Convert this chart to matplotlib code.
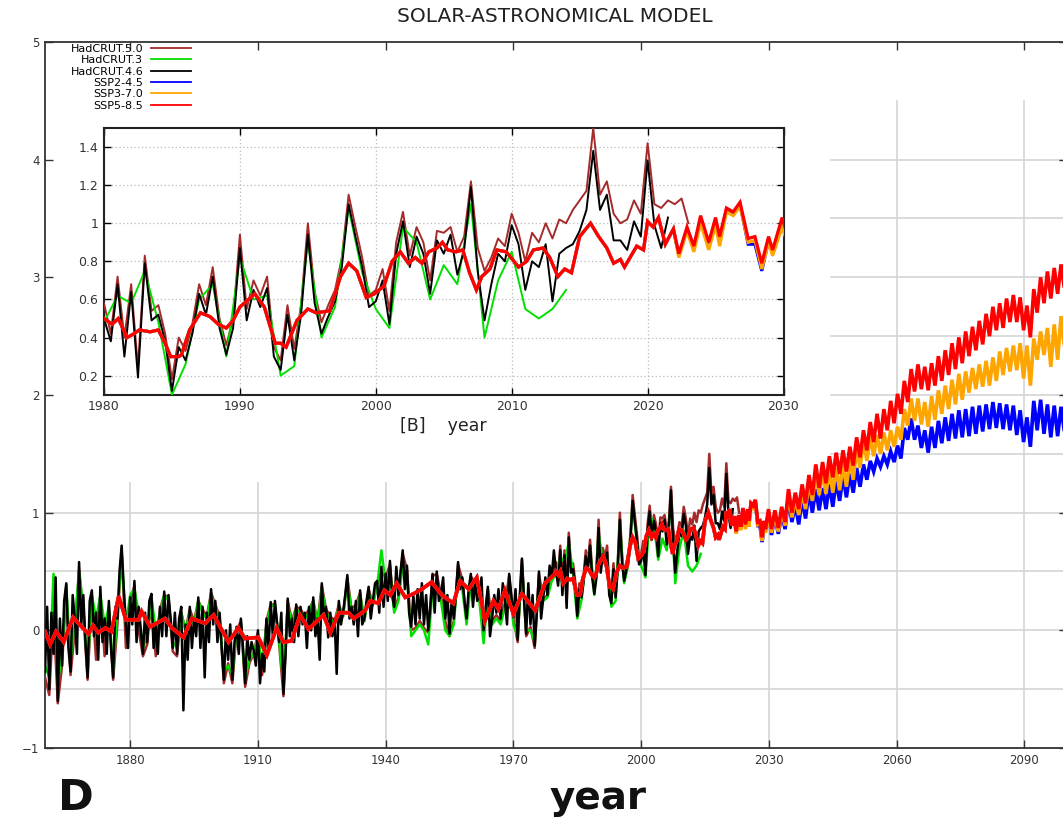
import numpy as np
import matplotlib
matplotlib.use("Agg")
import matplotlib.pyplot as plt
from matplotlib.ticker import FormatStrFormatter

# ---------------- data ----------------
series_names = ["HadCRUT.5.0", "HadCRUT.3", "HadCRUT.4.6", "SSP2-4.5", "SSP3-7.0", "SSP5-8.5"]
series_colors = ["#a52a2a", "#00e000", "#000000", "#0000ff", "#ffa500", "#ff0000"]

# HadCRUT.4.6, half-year steps 1860.0 .. 2021.5
hc46_years = np.arange(1860, 2022, 0.5)
hc46_vals = [
    -0.35, 0.20, -0.50, 0.15, -0.20, 0.45, -0.60, 0.10, -0.30, 0.25,
    0.40, -0.15, -0.35, 0.30, 0.10, -0.20, 0.58, 0.05, 0.30, -0.10,
    -0.40, 0.25, 0.34, -0.05, 0.15, -0.25, 0.37, -0.10, 0.10, -0.20,
    0.25, -0.15, -0.40, 0.20, 0.10, 0.50, 0.72, 0.35, 0.05, -0.15,
    0.28, 0.05, 0.42, -0.10, 0.20, 0.00, -0.20, 0.15, -0.10, 0.25,
    0.31, -0.15, 0.05, -0.20, 0.20, -0.05, 0.33, -0.05, 0.30, 0.10,
    -0.15, 0.15, -0.20, 0.10, 0.20, -0.68, 0.05, -0.25, 0.20, -0.15,
    0.10, -0.05, 0.28, -0.15, 0.20, -0.40, 0.15, -0.10, 0.35, 0.05,
    0.25, -0.10, 0.15, -0.15, -0.42, 0.00, -0.25, 0.05, -0.42, -0.10,
    0.03, -0.20, 0.10, -0.15, -0.45, -0.05, -0.25, -0.10, -0.17, -0.30,
    0.00, -0.45, -0.20, -0.35, 0.10, -0.15, 0.24, -0.05, 0.25, 0.05,
    -0.10, 0.15, -0.54, -0.20, 0.27, -0.05, 0.10, -0.10, 0.22, -0.05,
    0.20, 0.05, 0.15, -0.15, 0.20, 0.00, 0.28, -0.05, 0.10, -0.25,
    0.40, 0.10, 0.20, -0.06, 0.15, -0.05, 0.10, -0.37, 0.25, 0.05,
    0.15, 0.30, 0.47, 0.10, 0.20, 0.05, 0.25, -0.05, 0.34, 0.05,
    0.10, 0.25, 0.37, 0.10, 0.25, 0.40, 0.42, 0.15, 0.54, 0.20,
    0.48, 0.25, 0.59, 0.30, 0.20, 0.54, 0.30, 0.50, 0.68, 0.35,
    0.55, 0.15, 0.03, 0.30, 0.05, 0.35, 0.10, 0.40, 0.05, 0.30,
    0.00, 0.20, 0.48, 0.15, 0.50, 0.25, 0.31, 0.45, 0.10, 0.30,
    -0.03, 0.25, 0.10, 0.30, 0.58, 0.35, 0.45, 0.25, 0.10, 0.35,
    0.48, 0.20, 0.42, 0.25, 0.30, 0.45, 0.00, 0.20, 0.37, -0.05,
    0.10, 0.30, 0.15, 0.35, 0.10, 0.40, 0.25, 0.05, 0.48, 0.30,
    0.11, 0.35, -0.08, 0.30, 0.61, 0.25, -0.03, 0.40, 0.05, 0.30,
    -0.13, 0.15, 0.50, 0.10, 0.27, 0.45, 0.30, 0.55, 0.45, 0.68,
    0.50, 0.38, 0.68, 0.30, 0.64, 0.19, 0.79, 0.49, 0.52, 0.38,
    0.12, 0.35, 0.28, 0.42, 0.63, 0.52, 0.72, 0.45, 0.31, 0.45,
    0.87, 0.49, 0.65, 0.56, 0.66, 0.30, 0.23, 0.52, 0.28, 0.52,
    0.94, 0.58, 0.42, 0.51, 0.59, 0.77, 1.10, 0.93, 0.77, 0.56,
    0.59, 0.70, 0.47, 0.84, 1.01, 0.77, 0.93, 0.84, 0.63, 0.91,
    0.84, 0.94, 0.73, 0.86, 1.19, 0.75, 0.49, 0.68, 0.84, 0.80,
    0.99, 0.89, 0.65, 0.80, 0.77, 0.89, 0.59, 0.84, 0.87, 0.89,
    0.96, 1.07, 1.38, 1.07, 1.15, 0.91, 0.91, 0.86, 1.01, 0.93,
    1.33, 0.99, 0.87, 1.03,
]

# HadCRUT.3, yearly 1860 .. 2014
hc3_years = np.arange(1860, 2015)
hc3_vals = [
    -0.30, -0.40, 0.48, -0.45, -0.20, 0.38, -0.25, 0.05, 0.50, 0.20,
    -0.35, 0.30, 0.10, 0.30, 0.05, 0.20, -0.35, 0.15, 0.65, 0.05,
    0.30, 0.35, 0.15, -0.15, -0.05, 0.28, 0.00, 0.15, 0.30, 0.25,
    -0.10, -0.15, 0.15, 0.00, 0.15, 0.05, 0.25, 0.15, 0.10, 0.30,
    0.20, 0.10, -0.35, -0.30, -0.38, 0.00, 0.05, -0.40, -0.25, -0.20,
    -0.05, -0.30, 0.05, 0.20, 0.22, -0.10, -0.45, 0.22, 0.05, 0.18,
    0.15, 0.10, 0.15, 0.25, 0.05, 0.35, 0.15, 0.10, 0.05, 0.20,
    0.12, 0.42, 0.15, 0.20, 0.30, 0.08, 0.32, 0.22, 0.38, 0.68,
    0.40, 0.52, 0.15, 0.25, 0.55, 0.45, -0.05, 0.00, 0.05, 0.00,
    -0.12, 0.35, 0.40, 0.25, 0.00, -0.05, 0.05, 0.50, 0.35, 0.05,
    0.40, 0.35, 0.25, -0.11, 0.30, 0.05, 0.10, 0.05, 0.20, 0.42,
    0.05, -0.05, 0.55, 0.00, 0.00, -0.10, 0.42, 0.25, 0.28, 0.42,
    0.48, 0.62, 0.58, 0.75, 0.48, 0.10, 0.26, 0.60, 0.68, 0.30,
    0.82, 0.60, 0.62, 0.20, 0.25, 0.90, 0.40, 0.56, 1.08, 0.74,
    0.55, 0.45, 0.98, 0.90, 0.60, 0.78, 0.68, 1.10, 0.40, 0.70,
    0.85, 0.55, 0.50, 0.55, 0.65,
]

# HadCRUT.5.0, yearly 1860..1979 then half-year 1980.0..2023.0
hc5_years = np.concatenate([np.arange(1860, 1980), np.arange(1980, 2023.01, 0.5)])
hc5_vals = [
    -0.40, -0.55, 0.15, -0.62, -0.30, 0.35, -0.38, 0.00, 0.52, 0.15,
    -0.42, 0.28, -0.25, 0.30, -0.22, 0.20, -0.42, 0.05, 0.68, -0.15,
    0.25, 0.38, 0.00, -0.22, -0.12, 0.28, -0.22, 0.18, 0.30, 0.28,
    -0.18, -0.22, 0.15, 0.00, 0.18, 0.08, 0.25, 0.18, 0.12, 0.32,
    0.22, 0.12, -0.45, -0.28, -0.45, 0.00, 0.08, -0.48, -0.28, -0.20,
    -0.02, -0.38, 0.08, 0.22, 0.22, -0.12, -0.56, 0.25, 0.08, 0.20,
    0.18, 0.12, 0.18, 0.25, 0.08, 0.38, 0.18, 0.12, 0.08, 0.22,
    0.12, 0.45, 0.18, 0.22, 0.32, 0.08, 0.35, 0.22, 0.40, 0.50,
    0.45, 0.56, 0.18, 0.28, 0.65, 0.52, 0.00, 0.02, 0.08, 0.02,
    -0.02, 0.46, 0.48, 0.30, 0.08, -0.05, 0.08, 0.56, 0.43, 0.08,
    0.46, 0.40, 0.28, -0.02, 0.35, 0.08, 0.13, 0.08, 0.23, 0.46,
    0.10, -0.10, 0.60, -0.05, 0.03, -0.15, 0.48, 0.26, 0.30, 0.48,
    0.58, 0.42, 0.72, 0.40, 0.68, 0.24, 0.83, 0.54, 0.57, 0.42,
    0.18, 0.40, 0.33, 0.47, 0.68, 0.57, 0.77, 0.50, 0.36, 0.50,
    0.94, 0.55, 0.70, 0.62, 0.72, 0.35, 0.28, 0.57, 0.34, 0.57,
    1.00, 0.64, 0.48, 0.57, 0.65, 0.82, 1.15, 0.98, 0.82, 0.62,
    0.65, 0.76, 0.54, 0.90, 1.06, 0.83, 0.98, 0.90, 0.70, 0.96,
    0.95, 0.98, 0.85, 0.93, 1.22, 0.87, 0.75, 0.82, 0.92, 0.88,
    1.05, 0.95, 0.80, 0.95, 0.90, 1.00, 0.92, 1.02, 1.00, 1.07,
    1.12, 1.17, 1.50, 1.15, 1.22, 1.05, 1.00, 1.02, 1.12, 1.05,
    1.42, 1.10, 1.08, 1.12, 1.10, 1.13, 1.00,
]

# model (common history)
model_hist_years = [
    1860.0, 1861.2, 1862.6, 1864.4, 1866.6, 1868.6, 1870.2, 1871.3, 1872.5, 1874.2,
    1875.6, 1877.3, 1879.0, 1882.0, 1882.7, 1884.7, 1888.2, 1889.8, 1892.5, 1894.5,
    1897.6, 1899.6, 1903.1, 1905.4, 1907.0, 1910.1, 1912.1, 1914.4, 1916.0, 1917.9,
    1919.9, 1921.9, 1925.4, 1927.0, 1929.0, 1931.3, 1932.5, 1935.2, 1936.4, 1938.3,
    1939.7, 1941.1, 1942.6, 1944.6, 1946.5, 1948.5, 1950.8, 1953.2, 1955.9, 1957.5,
    1959.5, 1961.4, 1963.3, 1965.3, 1966.5, 1968.0, 1970.0, 1972.0, 1975.1, 1977.4,
    1979.8, 1980.0, 1980.6, 1981.05, 1981.7, 1982.2, 1982.6, 1983.4, 1984.0, 1984.5,
    1984.9, 1985.5, 1985.7, 1986.3, 1987.1, 1987.8, 1988.4, 1989.0, 1989.5, 1990.0,
    1991.1, 1991.8, 1992.6, 1993.0, 1993.4, 1994.2, 1995.0, 1995.6, 1996.6, 1997.4,
    1998.0, 1998.6, 1999.3, 1999.9, 2000.6, 2001.2, 2001.8, 2002.4, 2002.9, 2003.4,
    2003.9, 2004.5, 2004.9, 2005.3, 2005.9, 2006.4, 2006.9, 2007.4, 2007.8, 2008.4,
    2008.9, 2009.6, 2010.5, 2011.1, 2011.6, 2012.3, 2012.8, 2013.4, 2013.9, 2014.4,
    2015.0, 2015.8, 2016.4, 2017.0, 2017.5, 2018.0, 2018.3, 2019.2, 2019.7, 2020.0,
    2020.4, 2020.8, 2021.3, 2021.9,
]
model_hist_vals = [
    -0.01, -0.12, -0.01, -0.10, 0.11, 0.03, -0.03, 0.04, -0.02, 0.02,
    -0.01, 0.29, 0.09, 0.09, 0.16, 0.03, 0.10, 0.02, -0.06, 0.10,
    0.06, 0.13, -0.10, 0.02, -0.07, -0.06, -0.21, 0.02, -0.10, -0.09,
    0.13, 0.01, 0.13, -0.02, 0.15, 0.15, 0.10, 0.17, 0.25, 0.23,
    0.34, 0.30, 0.40, 0.28, 0.31, 0.35, 0.41, 0.30, 0.23, 0.42,
    0.35, 0.45, 0.08, 0.25, 0.18, 0.34, 0.14, 0.31, 0.17, 0.40,
    0.48, 0.50, 0.47, 0.50, 0.40, 0.42, 0.44, 0.43, 0.44, 0.37,
    0.30, 0.30, 0.31, 0.44, 0.53, 0.51, 0.47, 0.45, 0.49, 0.56,
    0.63, 0.56, 0.37, 0.37, 0.35, 0.49, 0.55, 0.53, 0.54, 0.72,
    0.79, 0.75, 0.61, 0.63, 0.67, 0.80, 0.85, 0.79, 0.82, 0.79,
    0.85, 0.87, 0.90, 0.86, 0.85, 0.86, 0.74, 0.65, 0.72, 0.76,
    0.86, 0.85, 0.77, 0.80, 0.86, 0.87, 0.82, 0.72, 0.76, 0.74,
    0.93, 1.00, 0.93, 0.87, 0.79, 0.81, 0.77, 0.88, 0.86, 1.01,
    0.98, 1.03, 0.89, 0.97,
]

# model near term 2022-2030
near_years = [2022.3, 2022.9, 2023.4, 2023.9, 2024.5, 2025.0, 2025.3, 2025.8,
              2026.3, 2026.8, 2027.4, 2027.9, 2028.4, 2028.9, 2029.2, 2029.9]
ssp245_near = [0.83, 0.97, 0.87, 1.02, 0.88, 1.01, 0.91, 1.07, 1.05, 1.10, 0.89, 0.89, 0.75, 0.91, 0.85, 1.00]
ssp370_near = [0.82, 0.96, 0.85, 1.00, 0.86, 0.99, 0.88, 1.06, 1.04, 1.09, 0.90, 0.91, 0.76, 0.90, 0.83, 0.98]
ssp585_near = [0.84, 0.98, 0.88, 1.04, 0.90, 1.03, 0.93, 1.08, 1.06, 1.11, 0.92, 0.93, 0.79, 0.93, 0.86, 1.03]

# projections, 0.8-year steps from 2030.6
proj_years = 2030.6 + 0.8 * np.arange(88)
ssp245_proj = [
    0.81, 0.97, 0.82, 0.99, 0.86, 1.12, 0.92, 1.07, 0.90, 1.12,
    0.95, 1.18, 1.00, 1.20, 1.02, 1.21, 1.03, 1.24, 1.05, 1.27,
    1.10, 1.31, 1.13, 1.33, 1.17, 1.38, 1.22, 1.41, 1.28, 1.44,
    1.35, 1.46, 1.39, 1.48, 1.41, 1.52, 1.43, 1.57, 1.46, 1.72,
    1.62, 1.80, 1.62, 1.74, 1.55, 1.70, 1.51, 1.73, 1.55, 1.78,
    1.59, 1.81, 1.61, 1.84, 1.63, 1.87, 1.64, 1.88, 1.65, 1.90,
    1.67, 1.91, 1.69, 1.92, 1.71, 1.94, 1.72, 1.93, 1.71, 1.92,
    1.70, 1.91, 1.66, 1.87, 1.60, 1.81, 1.56, 1.95, 1.70, 1.96,
    1.67, 1.92, 1.64, 1.91, 1.65, 1.90, 1.68, 1.92,
]
ssp370_proj = [
    0.83, 0.98, 0.84, 1.01, 0.89, 1.15, 0.96, 1.12, 0.98, 1.18,
    1.03, 1.26, 1.10, 1.33, 1.15, 1.35, 1.16, 1.37, 1.17, 1.38,
    1.19, 1.41, 1.22, 1.45, 1.28, 1.55, 1.38, 1.62, 1.44, 1.65,
    1.48, 1.66, 1.50, 1.68, 1.53, 1.70, 1.56, 1.73, 1.62, 1.88,
    1.74, 1.97, 1.78, 1.97, 1.75, 1.94, 1.73, 1.99, 1.79, 2.04,
    1.84, 2.08, 1.88, 2.13, 1.92, 2.18, 1.96, 2.20, 2.02, 2.23,
    2.05, 2.26, 2.07, 2.29, 2.08, 2.32, 2.12, 2.37, 2.17, 2.40,
    2.20, 2.42, 2.21, 2.44, 2.14, 2.42, 2.08, 2.48, 2.30, 2.54,
    2.34, 2.57, 2.24, 2.60, 2.30, 2.67, 2.40, 2.74,
]
ssp585_proj = [
    0.86, 1.02, 0.87, 1.05, 0.92, 1.20, 1.00, 1.17, 1.03, 1.24,
    1.08, 1.32, 1.15, 1.41, 1.21, 1.43, 1.25, 1.48, 1.30, 1.51,
    1.33, 1.53, 1.35, 1.56, 1.40, 1.64, 1.47, 1.70, 1.53, 1.77,
    1.60, 1.84, 1.63, 1.88, 1.70, 1.95, 1.76, 2.01, 1.84, 2.12,
    1.94, 2.22, 2.03, 2.26, 2.05, 2.24, 2.04, 2.27, 2.08, 2.33,
    2.12, 2.38, 2.17, 2.44, 2.22, 2.49, 2.27, 2.54, 2.33, 2.58,
    2.38, 2.63, 2.43, 2.69, 2.50, 2.75, 2.55, 2.78, 2.57, 2.82,
    2.62, 2.85, 2.62, 2.83, 2.55, 2.76, 2.49, 2.90, 2.70, 3.00,
    2.78, 3.05, 2.82, 3.08, 2.86, 3.11, 2.90, 3.17,
]

main_xticks = [1880, 1910, 1940, 1970, 2000, 2030, 2060, 2090]
main_yticks = [-1, 0, 1, 2, 3, 4, 5]
main_hgrid = [-0.5, 0, 0.5, 1, 1.5, 2, 2.5, 3, 3.5, 4]
inset_xticks = [1980, 1990, 2000, 2010, 2020, 2030]
inset_yticks = [0.2, 0.4, 0.6, 0.8, 1.0, 1.2, 1.4]

# ---------------- figure ----------------
W, H = 1063, 821
fig = plt.figure(figsize=(W / 100, H / 100), dpi=100)
fig.patch.set_facecolor("white")

ax = fig.add_axes([45 / W, 1 - 748 / H, 1022 / W, 706 / H])
ax.set_xlim(1860, 2100)
ax.set_ylim(-1, 5)

# grid (left clear where the inset sits)
grid_cut_year, grid_cut_val, grid_top = 2044.5, 1.25, 4.5
gcol = "#d4d4d4"
for gx in main_xticks:
    top = grid_top if gx > grid_cut_year else grid_cut_val
    ax.plot([gx, gx], [-1, top], color=gcol, lw=1.2, zorder=0.5)
for gy in main_hgrid:
    left = 1860 if gy < grid_cut_val else grid_cut_year
    ax.plot([left, 2100], [gy, gy], color=gcol, lw=1.2, zorder=0.5)


def draw_all(a, lw_obs, lw_mod, labels=True):
    a.plot(hc5_years, hc5_vals, color=series_colors[0], lw=lw_obs, zorder=3,
           label=series_names[0] if labels else None)
    a.plot(hc3_years, hc3_vals, color=series_colors[1], lw=lw_obs, zorder=4,
           label=series_names[1] if labels else None)
    a.plot(hc46_years, hc46_vals, color=series_colors[2], lw=lw_obs, zorder=5,
           label=series_names[2] if labels else None)
    for i, (near, proj) in enumerate([(ssp245_near, ssp245_proj),
                                      (ssp370_near, ssp370_proj),
                                      (ssp585_near, ssp585_proj)]):
        x = np.concatenate([model_hist_years, near_years, proj_years])
        y = np.concatenate([model_hist_vals, near, proj])
        a.plot(x, y, color=series_colors[3 + i], lw=lw_mod, zorder=6 + i,
               solid_joinstyle="miter",
               label=series_names[3 + i] if labels else None)


draw_all(ax, 1.8, 2.6)

ax.set_xticks(main_xticks)
ax.set_yticks(main_yticks)
ax.tick_params(direction="in", top=True, right=True, length=5.5, width=1.0,
               labelsize=8.5, labelcolor="#333333", color="#333333", pad=4)
for s in ax.spines.values():
    s.set_linewidth(1.3)
    s.set_color("#333333")

leg = ax.legend(loc="upper right", bbox_to_anchor=(191 / W, 1 - 44 / H),
                bbox_transform=fig.transFigure, frameon=False, markerfirst=False,
                fontsize=8, handlelength=3.6, handletextpad=0.7,
                labelspacing=0.12, borderpad=0, borderaxespad=0)
for ln in leg.get_lines():
    ln.set_linewidth(1.3)

# ---------------- inset ----------------
axi = fig.add_axes([104 / W, 1 - 394.7 / H, 679.5 / W, 266.7 / H])
axi.set_facecolor("white")
axi.set_xlim(1980, 2030)
axi.set_ylim(0.1, 1.5)
axi.set_xticks(inset_xticks)
axi.set_yticks(inset_yticks)
axi.yaxis.set_major_formatter(FormatStrFormatter("%g"))
axi.grid(True, ls=(0, (1, 2)), color="#bbbbbb", lw=0.9, zorder=0)
draw_all(axi, 1.4, 2.3, labels=False)
axi.tick_params(direction="in", top=True, right=True, length=5, width=1.0,
                labelsize=9, labelcolor="#333333", pad=4)
for s in axi.spines.values():
    s.set_linewidth(1.5)
    s.set_color("#222222")
axi.set_xlabel("[B]    year", fontsize=12.5, color="#222222", labelpad=3)

# ---------------- texts ----------------
fig.text(555 / W, 1 - 17 / H, "SOLAR-ASTRONOMICAL MODEL", ha="center", va="center",
         fontsize=14.5, color="#222222")
fig.text(58 / W, 1 - 819 / H, "D", ha="left", va="bottom", fontsize=31,
         fontweight="bold", color="#111111")
fig.text(598 / W, 1 - 798 / H, "year", ha="center", va="center", fontsize=28,
         fontweight="bold", color="#111111")

fig.savefig("out.png", dpi=100, facecolor="white")
